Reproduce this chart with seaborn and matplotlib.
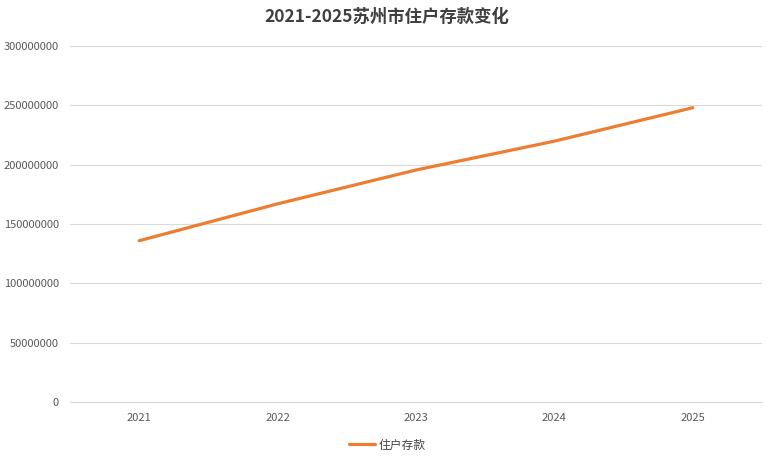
import matplotlib
matplotlib.use("Agg")
import matplotlib.pyplot as plt
import seaborn as sns
import pandas as pd
from matplotlib.ticker import MultipleLocator, FuncFormatter

years = ["2021", "2022", "2023", "2024", "2025"]
deposits = [135900000, 167000000, 195500000, 219800000, 248000000]
series_name = "住户存款"
title = "2021-2025苏州市住户存款变化"

sns.set_theme(style="white")
plt.rcParams['font.family'] = ['Noto Sans CJK SC', 'DejaVu Sans']

df = pd.DataFrame({"year": years, "value": deposits, "series": series_name})

fig = plt.figure(figsize=(7.74, 4.57), dpi=100)
ax = fig.add_axes([70/774, 1 - 402/457, (762-70)/774, (402-46)/457])

sns.lineplot(data=df, x="year", y="value", hue="series", palette=["#ED7D31"],
             linewidth=2.3, ax=ax, sort=False, legend=True)

ax.set_xlim(-0.5, 4.5)
ax.set_ylim(0, 300000000)
ax.yaxis.set_major_locator(MultipleLocator(50000000))
ax.yaxis.set_major_formatter(FuncFormatter(lambda v, p: f"{int(v)}"))
ax.grid(axis="y", color="#D9D9D9", linewidth=0.8)
ax.set_axisbelow(True)
for s in ["top", "right", "left"]:
    ax.spines[s].set_visible(False)
ax.spines["bottom"].set_color("#D9D9D9")
ax.spines["bottom"].set_linewidth(0.8)
ax.tick_params(axis="both", length=0, labelsize=8, colors="#595959")
ax.tick_params(axis="y", pad=8)
ax.tick_params(axis="x", pad=8)
ax.set_xlabel("")
ax.set_ylabel("")

handles, labels = ax.get_legend_handles_labels()
ax.get_legend().remove()
leg = fig.legend(handles, labels, loc="center", bbox_to_anchor=(387/774, 1 - 445/457),
                 frameon=False, fontsize=8.5, handlelength=2.2, handletextpad=0.3)
for t in leg.get_texts():
    t.set_color("#404040")

fig.text(0.5, 1 - 17/457, title, ha="center", va="center", fontsize=12.5,
         fontweight="bold", color="#404040")

fig.savefig("out.png", dpi=100, facecolor="white")
